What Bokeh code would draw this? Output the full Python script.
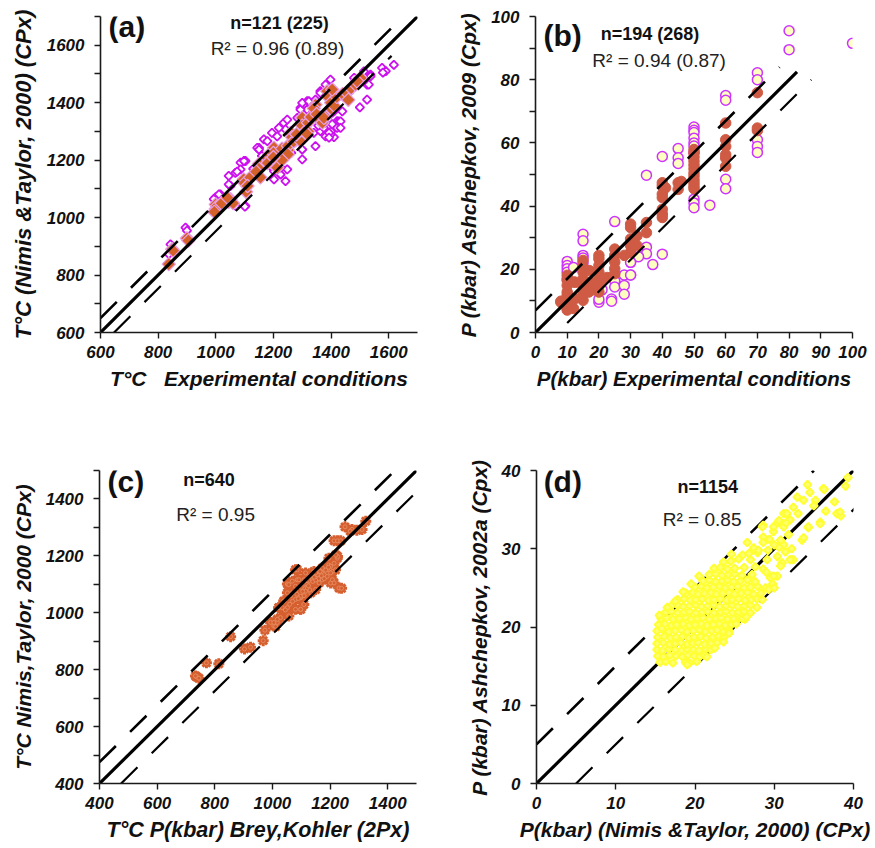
from bokeh.plotting import figure
from bokeh.models import Range1d, FixedTicker, Label
from bokeh.layouts import column, row
from bokeh.embed import file_html
from bokeh.resources import INLINE
import math

FONT = "Liberation Sans"

# ---------------- (a) T experimental vs T Nimis & Taylor ----------------
a_open_x = [1618, 1577, 1590, 1580, 1537, 1525, 1525, 1500, 1398, 1363, 1317, 1294, 1421, 1400, 1390, 1410,
            1346, 1300, 1300, 1242, 1225, 1202, 1248, 1213, 1236, 1248, 1195, 1167, 1150, 1086, 1068, 1045,
            1051, 1103, 1016, 999, 1103, 1086, 1398, 1421, 1427, 1317, 1283, 1242, 1213, 1179, 1144, 1150,
            1098, 1074, 1011, 993, 1045, 1069, 843, 895, 832, 837, 900, 1340, 1363, 1375, 1410, 1433,
            1439, 1381, 1393, 1219, 1294, 1300, 1323, 1346, 1363, 1381, 1480, 1514, 1537, 1531, 1398, 1433,
            1202, 1225, 1000, 1010, 1020, 990, 1101, 1393, 1404, 1378, 1356, 1262, 1275, 1190, 1130, 1160]
a_open_y = [1532, 1521, 1510, 1505, 1498, 1463, 1411, 1384, 1480, 1440, 1405, 1382, 1336, 1300, 1290, 1280,
            1249, 1203, 1237, 1127, 1150, 1133, 1168, 1197, 1330, 1341, 1295, 1272, 1243, 1191, 1156, 1145,
            1110, 1041, 1081, 1070, 1197, 1168, 1289, 1312, 1335, 1376, 1347, 1307, 1283, 1266, 1243, 1237,
            1197, 1160, 1081, 1064, 1116, 1041, 907, 965, 838, 873, 955, 1295, 1301, 1312, 1370, 1335,
            1370, 1283, 1295, 1312, 1376, 1399, 1405, 1411, 1434, 1463, 1486, 1509, 1492, 1463, 1359, 1312,
            1162, 1174, 1030, 1050, 1060, 1020, 1038, 1278, 1325, 1330, 1320, 1225, 1262, 1180, 1170, 1215]
a_fill_x = [837, 849, 852, 900, 905, 1000, 1000, 1005, 995, 1051, 1045, 1097, 1100, 1105, 1150, 1150,
            1155, 1179, 1185, 1202, 1200, 1205, 1213, 1230, 1250, 1250, 1260, 1265, 1270, 1294, 1300, 1300,
            1310, 1320, 1330, 1346, 1340, 1350, 1360, 1370, 1380, 1387, 1390, 1400, 1400, 1410, 1420, 1440,
            1456, 1460, 1470, 1485, 1503, 1490, 1250, 1230, 1180, 1120, 1110, 1060, 1020, 1320, 1280, 1200,
            1140, 1404, 1375, 1317, 1040]
a_fill_y = [838, 890, 885, 928, 920, 1046, 1030, 1040, 1020, 1064, 1055, 1133, 1120, 1090, 1187, 1170,
            1140, 1208, 1220, 1243, 1225, 1180, 1174, 1240, 1235, 1250, 1295, 1280, 1265, 1266, 1347, 1320,
            1300, 1330, 1350, 1393, 1380, 1360, 1340, 1330, 1350, 1440, 1420, 1400, 1380, 1390, 1420, 1430,
            1434, 1410, 1450, 1463, 1486, 1475, 1220, 1200, 1190, 1140, 1110, 1050, 1050, 1300, 1290, 1210,
            1160, 1446, 1347, 1290, 1070]
a_line_x = [600, 1700]
a_up_x = [600, 1680]
a_lo_x = [647, 1610]
a_off = [50, -47]

# ---------------- (b) P experimental vs P Ashchepkov 2009 ----------------
b_open_x = [100, 80, 80, 70, 70, 70, 70, 70, 60, 60, 60, 60, 50, 50, 50, 50, 50, 50, 50, 50, 50, 50,
            55, 45, 45, 45, 40, 40, 35, 35, 35, 37, 30, 30, 32.5, 25, 25, 25, 28, 28, 28, 24, 24,
            20, 20, 20, 21, 15, 15, 15, 15, 15, 10, 10, 10, 10, 10, 12, 30, 30]
b_open_y = [91.5, 95.5, 89.5, 82.2, 80, 61, 58.9, 57, 75, 73.5, 48.5, 45.5, 65, 64, 63.3, 61.5, 60, 59, 57, 42.2, 41, 39.5,
            40.3, 58.2, 55.3, 53.5, 55.7, 24.8, 49.8, 27, 24.9, 21.5, 22.2, 18.2, 24, 35.1, 16.4, 14.4, 18.2, 14.9, 12.1, 10.6, 9.9,
            9.6, 10.5, 13.5, 13.5, 31.1, 29, 24.4, 23.6, 22, 22.5, 21.2, 20.2, 19.1, 17, 20.6, 18.2, 22.2]
b_fill_x = [100, 70, 70, 70, 60, 60, 60, 60, 60, 60, 50, 50, 50, 50, 50, 50, 50, 50, 50, 50, 50, 50,
            45, 46, 45, 40, 40, 40, 40, 40, 40, 40, 41, 35, 35, 30, 30, 30, 30, 30, 32, 32, 28, 25, 25, 25, 25, 25,
            22.6, 20, 20, 20, 20, 20, 20, 20, 20, 21.6, 18.5, 17, 17, 17.4, 16.8, 15, 15, 15, 15, 15, 15, 15, 15,
            12, 12, 12.4, 12.6, 11, 10, 10, 10, 10, 10, 10, 10, 10, 10, 10, 8, 8]
b_fill_y = [102, 75.9, 64.7, 63.9, 66.3, 61, 58.9, 56.3, 55.2, 52.6, 57.9, 56.8, 55.5, 54.2, 53, 51.8, 50.5, 49.5, 48.3, 47.3, 46.3, 45.5,
            47.4, 47.8, 45.3, 47.4, 46.4, 43.8, 42.7, 39, 37.5, 36.4, 45.8, 34.8, 31.6, 34.3, 33.2, 29.6, 27.5, 25.4, 30.6, 27.5, 24.4, 26.4, 24.4, 22.3, 20.2, 18.6,
            17.4, 24.4, 23.3, 21.2, 19.1, 17, 14.9, 12.8, 16, 17, 13.5, 19.6, 13.2, 15.9, 12.8, 22.8, 20.7, 19.1, 17, 14.9, 12.3, 10.2, 16,
            16, 7.6, 10.7, 15.9, 10.2, 18.1, 16.5, 14.9, 12.8, 10.7, 9.6, 8.6, 7.8, 7.1, 11.8, 9.6, 9.9]
b_line_x = [0, 82.5]
b_up_x = [0, 77]
b_lo_x = [10, 87]
b_off = [7, -7]

# ---------------- (c) T Brey & Kohler vs T Nimis & Taylor ----------------
c_x = [737, 745, 733, 771, 814, 855, 903, 924, 968, 974, 1005, 1017, 994, 1028, 1022, 1052, 1040, 1063, 1052,
       1086, 1080, 1098, 1098, 1121, 1138, 1156, 1179, 1196, 1202, 1231, 1080, 1115, 1144, 1225, 1208,
       1252, 1276, 1293, 1311, 1270, 1324, 1214, 1226, 1237, 1226, 1220, 1196, 1190, 1208, 1214, 1240,
       1190, 1173, 1156, 1138, 1121, 1104, 1092, 1086, 1069, 1057, 1069, 1080, 1098, 1109, 1133, 1150,
       1162, 1179, 1202, 1214, 1202, 1150, 1127, 1110, 1080, 1052, 1040, 1034, 1022, 1017, 1005, 1011,
       1080, 1057, 1098, 1115, 1173, 1219, 1100, 1120, 1140, 1160, 1130, 1110, 1090, 1070, 1150, 1170,
       1185, 1060, 1045, 1125, 1145, 1165, 1105, 1085, 1195, 1180]
c_y = [775, 770, 778, 824, 821, 916, 873, 879, 902, 939, 954, 966, 966, 983, 1018, 1018, 1041, 1059, 1101,
       1116, 1076, 1053, 1012, 1087, 1116, 1134, 1151, 1168, 1105, 1087, 1151, 1140, 1145, 1192, 1145,
       1302, 1293, 1290, 1293, 1287, 1322, 1253, 1253, 1253, 1198, 1203, 1192, 1151, 1116, 1105, 1086,
       1128, 1157, 1134, 1116, 1105, 1093, 1116, 1151, 1111, 1099, 1070, 1047, 1058, 1029, 1070, 1082,
       1105, 1134, 1163, 1174, 1140, 1140, 1128, 1116, 1093, 1070, 1041, 1018, 1018, 977, 966, 952,
       1012, 989, 1012, 1076, 1116, 1151, 1090, 1100, 1110, 1120, 1080, 1060, 1050, 1040, 1115, 1130,
       1150, 1030, 1010, 1095, 1125, 1145, 1075, 1065, 1160, 1120]
c_line_x = [400, 1500]
c_up_x = [400, 1470]
c_lo_x = [475, 1500]
c_off = [75, -75]

# ---------------- (d) P Nimis & Taylor vs P Ashchepkov 2002a ----------------
d_x = [
    15.6, 16.3, 17.2, 18.8, 19.3, 20.2,
    15.3, 16.0, 16.8, 17.6, 18.4, 19.1, 19.9, 20.6, 21.2,
    15.2, 15.9, 16.7, 17.5, 18.3, 19.0, 19.8, 20.5, 21.3, 22.0,
    15.2, 16.0, 16.8, 17.5, 18.2, 19.0, 19.7, 20.4, 21.2, 22.0, 22.8,
    15.3, 16.1, 16.9, 17.6, 18.4, 19.2, 19.9, 20.7, 21.4, 22.2, 23.0, 23.6,
    15.2, 16.0, 16.7, 17.5, 18.3, 19.0, 19.8, 20.6, 21.3, 22.1, 22.8, 23.6, 24.3,
    15.4, 16.2, 17.0, 17.7, 18.5, 19.3, 20.0, 20.8, 21.5, 22.3, 23.1, 23.8, 24.6, 25.2,
    15.7, 16.4, 17.2, 18.0, 18.8, 19.5, 20.3, 21.0, 21.8, 22.6, 23.3, 24.1, 24.9, 25.6, 26.3,
    16.3, 17.0, 17.8, 18.6, 19.3, 20.1, 20.9, 21.6, 22.4, 23.2, 23.9, 24.7, 25.5, 26.2, 27.0,
    17.0, 17.8, 18.5, 19.3, 20.1, 20.8, 21.6, 22.4, 23.1, 23.9, 24.7, 25.4, 26.2, 27.0,
    17.8, 18.6, 19.4, 20.1, 20.9, 21.7, 22.4, 23.2, 24.0, 24.7, 25.5, 26.3, 27.1, 27.8,
    18.9, 19.7, 20.4, 21.2, 22.0, 22.7, 23.5, 24.3, 25.0, 25.8, 26.6, 27.4, 28.3,
    20.0, 20.8, 21.5, 22.3, 23.1, 23.8, 24.6, 25.4, 26.2, 27.0, 27.9, 28.9,
    21.0, 21.8, 22.6, 23.4, 24.1, 24.9, 25.7, 26.6, 27.6,
    21.8, 22.6, 23.4, 24.2, 25.0, 25.9, 27.2,
    22.4, 23.2, 24.1, 25.0, 26.2,
    23.6, 24.5,
    21.5, 22.5, 23.6, 24.3, 26.0, 26.5, 27.8, 28.5, 29.3, 29.8, 20.5, 19.5, 18.5, 17.5, 16.5, 15.5,
    28.6, 30.4, 31.2, 32.4, 33.7, 34.5, 36.2, 35.2, 35.8, 34.3, 33.5, 32.4, 31.0, 30.4, 29.5, 30.4,
    31.4, 28.6, 29.9, 31.2, 32.0, 30.8, 27.9, 27.0, 27.6, 28.6, 29.1, 26.6, 28.6, 37.9, 39.3, 38.4,
    38.3, 35.8, 34.2, 36.3, 32.9, 31.6, 29.9, 28.5, 34.3, 30.8, 29.9, 32.0, 31.2, 31.8, 30.6, 32.2,
    30.0, 29.2, 31.5, 30.6, 29.4, 27.4, 26.0, 25.5, 24.6, 26.8, 28.0, 29.0, 30.0, 33.7, 36.5, 35.0,
    33.0, 39.0, 37.6, 19.0, 15.8]
d_y = [
    15.5, 15.6, 15.4, 15.5, 15.4, 15.6,
    16.3, 16.2, 16.4, 16.3, 16.2, 16.4, 16.3, 16.2, 16.4,
    17.1, 17.0, 17.2, 17.1, 17.0, 17.2, 17.1, 17.0, 17.2, 17.1,
    17.9, 18.0, 17.8, 17.9, 18.0, 17.8, 17.9, 18.0, 17.8, 17.9, 18.0,
    18.7, 18.8, 18.6, 18.7, 18.8, 18.6, 18.7, 18.8, 18.6, 18.7, 18.8, 18.6,
    19.5, 19.6, 19.4, 19.5, 19.6, 19.4, 19.5, 19.6, 19.4, 19.5, 19.6, 19.4, 19.5,
    20.3, 20.4, 20.2, 20.3, 20.4, 20.2, 20.3, 20.4, 20.2, 20.3, 20.4, 20.2, 20.3, 20.4,
    21.1, 21.2, 21.0, 21.1, 21.2, 21.0, 21.1, 21.2, 21.0, 21.1, 21.2, 21.0, 21.1, 21.2, 21.0,
    21.9, 22.0, 21.8, 21.9, 22.0, 21.8, 21.9, 22.0, 21.8, 21.9, 22.0, 21.8, 21.9, 22.0, 21.8,
    22.7, 22.8, 22.6, 22.7, 22.8, 22.6, 22.7, 22.8, 22.6, 22.7, 22.8, 22.6, 22.7, 22.8,
    23.5, 23.6, 23.4, 23.5, 23.6, 23.4, 23.5, 23.6, 23.4, 23.5, 23.6, 23.4, 23.5, 23.6,
    24.3, 24.4, 24.2, 24.3, 24.4, 24.2, 24.3, 24.4, 24.2, 24.3, 24.4, 24.2, 24.3,
    25.1, 25.2, 25.0, 25.1, 25.2, 25.0, 25.1, 25.2, 25.0, 25.1, 25.2, 25.0,
    25.9, 26.0, 25.8, 25.9, 26.0, 25.8, 25.9, 26.0, 25.8,
    26.7, 26.8, 26.6, 26.7, 26.8, 26.6, 26.7,
    27.5, 27.6, 27.4, 27.5, 27.6,
    28.3, 28.4,
    16.2, 17.3, 18.1, 19.2, 21.1, 21.3, 22.5, 23.5, 24.8, 25.5, 26.5, 25.5, 24.5, 23.3, 22.5, 21.5,
    33.0, 33.3, 34.5, 35.3, 36.2, 37.2, 37.7, 36.2, 33.4, 32.7, 31.1, 28.6, 28.2, 26.5, 26.3, 29.0,
    29.6, 31.5, 32.2, 32.8, 33.7, 31.1, 29.5, 28.6, 27.7, 27.4, 28.6, 30.8, 30.8, 34.5, 39.1, 34.2,
    34.7, 33.2, 38.2, 37.6, 36.6, 34.5, 32.8, 32.8, 32.8, 27.8, 26.5, 28.6, 30.5, 31.8, 30.2, 30.0,
    30.5, 29.8, 33.3, 33.6, 31.2, 30.1, 29.2, 28.7, 29.3, 29.4, 29.8, 27.0, 25.0, 31.4, 34.8, 35.5,
    34.5, 38.0, 36.0, 15.2, 19.8]
d_line_x = [0, 40]
d_up_x = [0, 35]
d_lo_x = [5, 45]
d_off = [5, -5]


def panel(w, h, bl, br, bt, bb, xr, yr, xt, xm, yt, ym, xlabel, ylabel, xls="21px", yls="21px"):
    p = figure(width=w, height=h, x_range=Range1d(*xr), y_range=Range1d(*yr),
               output_backend="svg", toolbar_location=None,
               min_border_left=bl, min_border_right=br, min_border_top=bt, min_border_bottom=bb)
    p.outline_line_color = None
    p.xgrid.visible = False
    p.ygrid.visible = False
    p.background_fill_color = "white"
    p.border_fill_color = "white"
    p.xaxis.ticker = FixedTicker(ticks=xt, minor_ticks=xm)
    p.yaxis.ticker = FixedTicker(ticks=yt, minor_ticks=ym)
    for ax in (p.xaxis[0], p.yaxis[0]):
        ax.axis_line_color = "#1a1a1a"
        ax.axis_line_width = 1.6
        ax.major_tick_line_color = "#1a1a1a"
        ax.minor_tick_line_color = "#1a1a1a"
        ax.major_tick_line_width = 1.4
        ax.minor_tick_line_width = 1.4
        ax.major_tick_in = 0
        ax.major_tick_out = 6
        ax.minor_tick_in = 0
        ax.minor_tick_out = 6
        ax.major_label_text_font = FONT
        ax.major_label_text_font_style = "bold italic"
        ax.major_label_text_font_size = "17px"
        ax.major_label_text_color = "#111111"
        ax.axis_label_text_font = FONT
        ax.axis_label_text_font_style = "bold italic"
        ax.axis_label_text_color = "#111111"
    p.xaxis.axis_label_text_font_size = xls
    p.yaxis.axis_label_text_font_size = yls
    p.xaxis.major_label_standoff = 7
    p.yaxis.major_label_standoff = 10
    p.xaxis.axis_label_standoff = 6
    p.yaxis.axis_label_standoff = 8
    p.xaxis.axis_label = xlabel
    p.yaxis.axis_label = ylabel
    return p


def ref_lines(p, lx, ux, lox, off):
    p.line(lx, lx, line_color="black", line_width=3.2)
    p.line(ux, [v + off[0] for v in ux], line_color="black", line_width=2.6, line_dash="23 20")
    p.line(lox, [v + off[1] for v in lox], line_color="black", line_width=2.2, line_dash="23 20")


def texts(p, tag, tx, ty, n, nx, ny, r2, rx, ry):
    p.add_layout(Label(x=tx, y=ty, text=tag, text_font=FONT, text_font_style="bold",
                       text_font_size="30px", text_baseline="alphabetic", text_align="left", text_color="#111111"))
    p.add_layout(Label(x=nx, y=ny, text=n, text_font=FONT, text_font_style="bold",
                       text_font_size="18px", text_baseline="alphabetic", text_align="center", text_color="#111111"))
    p.add_layout(Label(x=rx, y=ry, text=r2, text_font=FONT, text_font_style="normal",
                       text_font_size="19px", text_baseline="alphabetic", text_align="center", text_color="#222222"))


rot = math.pi / 4

# (a)
pa = panel(440, 428, 100, 23, 15, 96, (600, 1700), (600, 1700),
           list(range(600, 1601, 200)), [], list(range(600, 1601, 200)), list(range(700, 1701, 200)),
           "T\u00b0C\u00a0\u00a0\u00a0Experimental conditions", "T\u00b0C (Nimis &Taylor, 2000) (CPx)",
           xls="21px", yls="22px")
pa.scatter(a_open_x, a_open_y, marker="square", angle=rot, size=6, fill_color="white",
           line_color="#cc11ee", line_width=1.8)
pa.scatter(a_fill_x, a_fill_y, marker="square", angle=rot, size=9.5, fill_color="#d4602a",
           line_color="#e9a0e9", line_width=1.2)
ref_lines(pa, a_line_x, a_up_x, a_lo_x, a_off)
texts(pa, "(a)", 628, 1666, "n=121 (225)", 1221, 1676, "R\u00b2 = 0.96 (0.89)", 1214, 1589)

# (b)
pb = panel(433, 428, 95, 21, 16, 94, (0, 100), (0, 100),
           list(range(0, 101, 10)), [], list(range(0, 101, 20)), list(range(10, 100, 20)),
           "P(kbar) Experimental conditions", "P (kbar) Ashchepkov, 2009 (Cpx)",
           xls="20.5px", yls="21px")
pb.scatter(b_open_x, b_open_y, marker="circle", size=10, fill_color="#ffffc0",
           line_color="#cc33ff", line_width=1.5)
pb.scatter(b_fill_x, b_fill_y, marker="circle", size=10.5, fill_color="#cf5b45",
           line_color="#cf5b45", line_width=1)
ref_lines(pb, b_line_x, b_up_x, b_lo_x, b_off)
texts(pb, "(b)", 2.5, 94.0, "n=194 (268)", 36.1, 94.4, "R\u00b2 = 0.94 (0.87)", 39, 86.0)

# (c)
pc = panel(440, 418, 99, 24, 38, 63, (400, 1500), (400, 1500),
           list(range(400, 1401, 200)), [], list(range(400, 1401, 200)), list(range(500, 1501, 200)),
           "T\u00b0C P(kbar) Brey,Kohler (2Px)", "T\u00b0C Nimis,Taylor, 2000 (CPx)",
           xls="21.5px", yls="21px")
pc.scatter(c_x, c_y, marker="asterisk", size=11, line_color="#d65f30", line_width=3)
pc.scatter(c_x, c_y, marker="circle", size=4, fill_color="#d65f30", line_color="#e58a5e", line_width=1)
ref_lines(pc, c_line_x, c_up_x, c_lo_x, c_off)
texts(pc, "(c)", 428, 1462, "n=640", 780, 1465, "R\u00b2 = 0.95", 803, 1345)

# (d)
pd_ = panel(433, 418, 96, 20, 42, 59, (0, 40), (0, 40),
            list(range(0, 41, 10)), [], list(range(0, 41, 10)), [],
            "P(kbar) (Nimis &Taylor, 2000) (CPx)", "P (kbar) Ashchepkov, 2002a (Cpx)",
            xls="21px", yls="21px")
ref_lines(pd_, d_line_x, d_up_x, d_lo_x, d_off)
pd_.scatter(d_x, d_y, marker="square", angle=rot, size=5.5, fill_color="#ffff70",
            line_color="#ffff33", line_width=2)
texts(pd_, "(d)", 0.9, 38.6, "n=1154", 21.6, 37.95, "R\u00b2 = 0.85", 20.9, 33.75)

layout = column(row(pa, pb), row(pc, pd_))
open("out.html", "w").write(file_html(layout, INLINE))
